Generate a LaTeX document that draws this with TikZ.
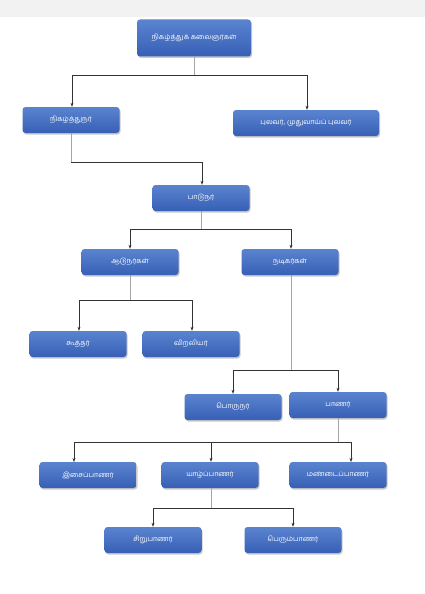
\documentclass[tikz,border=0pt]{standalone}
\usepackage{fontspec}
\newfontfamily\tamil[Script=Tamil]{Hind Madurai}
\usetikzlibrary{shadows,calc,arrows.meta}
\definecolor{boxtop}{HTML}{5A83CF}
\definecolor{boxbot}{HTML}{3760B6}
\definecolor{band}{HTML}{F2F2F2}
\tikzset{
  box/.style={rounded corners=3pt, top color=boxtop, bottom color=boxbot, draw=none,
    minimum width=97pt, minimum height=26pt, inner sep=1pt,
    font=\tamil\fontsize{7}{8.5}\selectfont, text=white,
    drop shadow={shadow xshift=1pt, shadow yshift=-1.5pt, opacity=0.35, fill=black!60}},
  stem/.style={draw=black!35, line width=0.5pt},
  link/.style={draw=black!80, line width=0.5pt},
  arr/.style={link, -{Stealth[length=4pt,width=3pt]}}
}
\begin{document}
\begin{tikzpicture}[x=1pt,y=-1pt]
\useasboundingbox (0,0) rectangle (425,594);
\fill[band] (0,0) rectangle (425,17);
\node[box, minimum width=114pt, minimum height=37pt] (n1) at (194,38) {நிகழ்த்துக் கலைஞர்கள்};
\node[box] (n2) at (71,120) {நிகழ்த்துநர்};
\node[box, minimum width=146pt] (n3) at (306,123) {புலவர், முதுவாய்ப் புலவர்};
\node[box] (n4) at (201,198) {பாடுநர்};
\node[box] (n5) at (130,262) {ஆடுநர்கள்};
\node[box] (n6) at (290,262) {நடிகர்கள்};
\node[box] (n7) at (78,344) {கூத்தர்};
\node[box] (n8) at (191,344) {விறலியர்};
\node[box] (n9) at (233,407) {பொருநர்};
\node[box] (n10) at (338,405) {பாணர்};
\node[box] (n11) at (88,475) {இசைப்பாணர்};
\node[box] (n12) at (210,475) {யாழ்ப்பாணர்};
\node[box] (n13) at (338,475) {மண்டைப்பாணர்};
\node[box] (n14) at (153,540) {சிறுபாணர்};
\node[box] (n15) at (293,540) {பெரும்பாணர்};
% junctions
\coordinate (j1) at (194,75);
\coordinate (j2) at (71,162);
\coordinate (j3) at (201,229);
\coordinate (j4) at (130,300);
\coordinate (j5) at (291,370);
\coordinate (j6) at (338,442);
\coordinate (j7) at (211,508);
\coordinate (t11) at (74,462);
\coordinate (t13) at (351,462);
% connectors
\draw[stem] (n1.south) -- (j1);
\draw[arr] (j1) -| ([xshift=1pt]n2.north);
\draw[arr] (j1) -| ([xshift=1pt]n3.north);
\draw[stem] (n2.south) -- (j2);
\draw[arr] (j2) -| ([xshift=1pt]n4.north);
\draw[stem] (n4.south) -- (j3);
\draw[arr] (j3) -| (n5.north);
\draw[arr] (j3) -| ([xshift=1pt]n6.north);
\draw[stem] (n5.south) -- (j4);
\draw[arr] (j4) -| ([xshift=1pt]n7.north);
\draw[arr] (j4) -| ([xshift=1pt]n8.north);
\draw[stem] ([xshift=1pt]n6.south) -- (j5);
\draw[arr] (j5) -| (n9.north);
\draw[arr] (j5) -| (n10.north);
\draw[stem] (n10.south) -- (j6);
\draw[arr] (j6) -| (t11);
\draw[arr] (j6) -| ([xshift=1pt]n12.north);
\draw[arr] (j6) -| (t13);
\draw[stem] ([xshift=1pt]n12.south) -- (j7);
\draw[arr] (j7) -| (n14.north);
\draw[arr] (j7) -| (n15.north);
\end{tikzpicture}
\end{document}
